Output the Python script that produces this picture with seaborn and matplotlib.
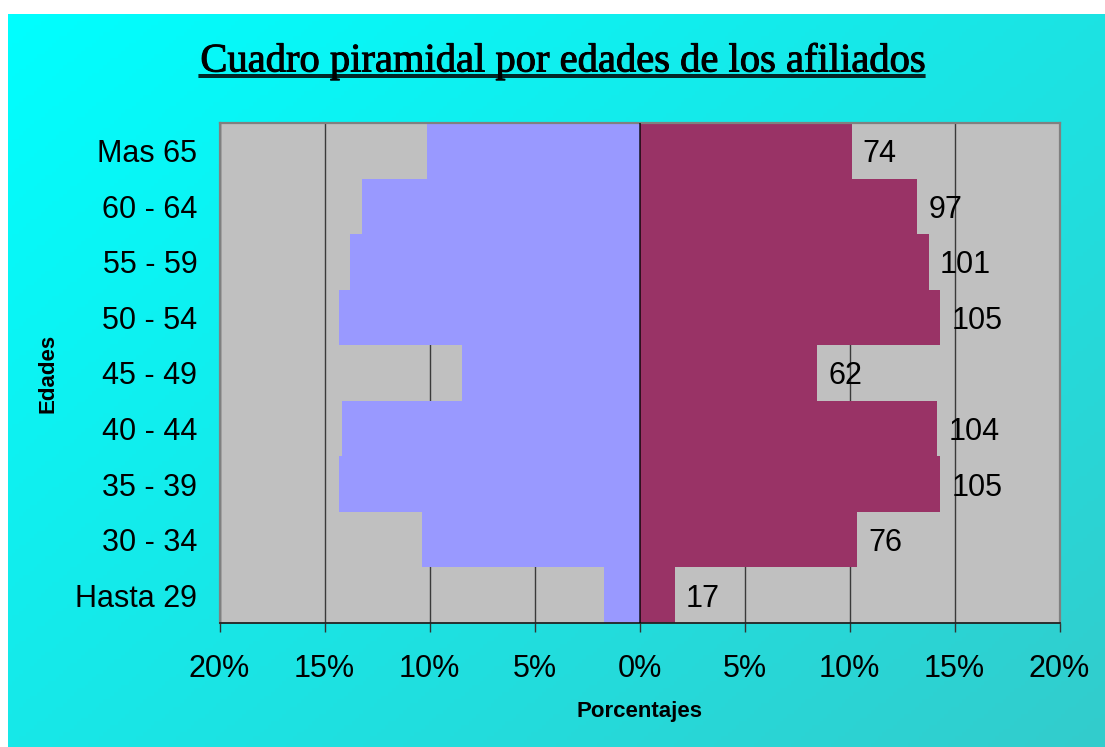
import numpy as np
import matplotlib
matplotlib.use("Agg")
import matplotlib.pyplot as plt
import matplotlib.patheffects as pe
from matplotlib.lines import Line2D
import seaborn as sns

# Data
edades = ["Mas 65", "60 - 64", "55 - 59", "50 - 54", "45 - 49",
          "40 - 44", "35 - 39", "30 - 34", "Hasta 29"]
afiliados = [74, 97, 101, 105, 62, 104, 105, 76, 17]
porcentaje = [10.10, 13.23, 13.78, 14.32, 8.46, 14.19, 14.32, 10.37, 1.68]
ticks = [-20, -15, -10, -5, 0, 5, 10, 15, 20]
tick_labels = ["20%", "15%", "10%", "5%", "0%", "5%", "10%", "15%", "20%"]

COLOR_LEFT = "#9999FF"
COLOR_RIGHT = "#993366"

sns.set_style("white")
plt.rcParams["font.family"] = ["Liberation Sans", "DejaVu Sans"]
plt.rcParams["text.color"] = "black"
plt.rcParams["xtick.labelcolor"] = "black"
plt.rcParams["ytick.labelcolor"] = "black"

W, H = 1105, 747
fig = plt.figure(figsize=(W / 100, H / 100), dpi=100)
fig.patch.set_facecolor("white")

# Cyan gradient background (chart area), white strip at top/left
bg = fig.add_axes([8 / W, 0, (W - 8) / W, (H - 14) / H])
bg.set_zorder(-5)
gx, gy = np.meshgrid(np.linspace(0, 1, 300), np.linspace(0, 1, 200))
t = (gx * 0.55 + gy * 0.45)
c0 = np.array([0, 255, 255]) / 255
c1 = np.array([51, 204, 204]) / 255
img = c0[None, None, :] + t[..., None] * (c1 - c0)[None, None, :]
bg.imshow(img, aspect="auto", extent=[0, 1, 0, 1], origin="upper")
bg.axis("off")

# Main plot area
ax = fig.add_axes([219.5 / W, (H - 623) / H, 840 / W, 500 / H])
ax.set_facecolor("#C0C0C0")

sns.barplot(x=[-p for p in porcentaje], y=edades, orient="h", color=COLOR_LEFT,
            saturation=1, width=1.0, linewidth=0, ax=ax, zorder=2)
sns.barplot(x=porcentaje, y=edades, orient="h", color=COLOR_RIGHT,
            saturation=1, width=1.0, linewidth=0, ax=ax, zorder=2)

texts = ax.bar_label(ax.containers[1], labels=[str(v) for v in afiliados],
                     padding=8, fontsize=22, color="black")
for txt in texts:
    txt.set_verticalalignment("center_baseline")

ax.set_xlim(-20, 20)
ax.set_ylim(len(edades) - 0.5, -0.5)
ax.set_xticks(ticks)
ax.set_xticklabels(tick_labels)
ax.set_xlabel("")
ax.set_ylabel("")

ax.set_axisbelow(True)
ax.xaxis.grid(True, color="#3a3a3a", linewidth=1.0, zorder=1)
ax.yaxis.grid(False)
ax.axvline(0, color="black", linewidth=1.3, alpha=0.75, zorder=3)

ax.tick_params(axis="x", length=6.5, width=1, color="#333333",
               direction="out", pad=16, labelsize=22, bottom=True,
               labelcolor="black")
ax.tick_params(axis="y", length=0, pad=16, labelsize=22, labelcolor="black")

for side in ["top", "left", "right"]:
    ax.spines[side].set_color("#808080")
    ax.spines[side].set_linewidth(1.6)
ax.spines["bottom"].set_color("#222222")
ax.spines["bottom"].set_linewidth(1.3)

# Titles / axis labels
fig.text(562 / W, 1 - 71.5 / H, "Cuadro piramidal por edades de los afiliados",
         ha="center", va="baseline", fontsize=29.2,
         family=["Liberation Serif", "DejaVu Serif"], color="black",
         path_effects=[pe.withStroke(linewidth=0.7, foreground="black")])
for yy in (74.5, 77.2):
    fig.add_artist(Line2D([199 / W, 925 / W], [1 - yy / H, 1 - yy / H],
                          transform=fig.transFigure, color="black", linewidth=1.2))

fig.text(639.5 / W, 1 - 711 / H, "Porcentajes", ha="center", va="center",
         fontsize=16, fontweight="bold", color="black")
fig.text(48 / W, 1 - 373 / H, "Edades", ha="center", va="center",
         rotation=90, fontsize=16, fontweight="bold", color="black")

fig.savefig("out.png", dpi=100)
